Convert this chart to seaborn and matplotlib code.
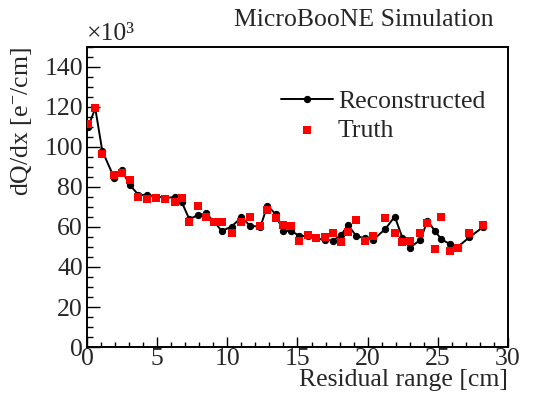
import matplotlib
matplotlib.use("Agg")
import matplotlib.pyplot as plt
from matplotlib.ticker import MultipleLocator
import seaborn as sns
import pandas as pd

# residual range [cm] of each track point
residual_range = [0.09, 0.59, 1.09, 1.93, 2.48, 3.05, 3.67, 4.29, 4.95, 5.59,
                  6.24, 6.76, 7.29, 7.93, 8.48, 9.05, 9.6, 10.3, 11.0, 11.64,
                  12.36, 12.86, 13.45, 13.95, 14.55, 15.14, 15.74, 16.33, 16.93, 17.52,
                  18.12, 18.59, 19.19, 19.83, 20.38, 21.26, 21.93, 22.48, 23.0, 23.76,
                  24.26, 24.79, 25.26, 25.9, 26.45, 27.24, 28.19]

# dQ/dx in units of 10^3 e-/cm
dqdx_reco = [110.2, 119.3, 98.0, 84.7, 88.3, 81.0, 76.0, 76.0, 75.2, 74.7,
             74.8, 72.3, 63.9, 66.0, 66.8, 62.7, 58.0, 60.2, 64.8, 60.5,
             60.2, 70.7, 66.3, 58.0, 58.0, 55.5, 55.5, 54.3, 53.5, 53.2,
             56.0, 61.0, 55.5, 54.3, 53.5, 59.0, 65.2, 54.5, 49.7, 53.5,
             63.2, 58.0, 53.8, 51.3, 50.2, 54.8, 59.8]

dqdx_truth = [111.3, 119.3, 96.3, 86.0, 86.8, 83.5, 74.8, 73.8, 74.3, 73.8,
              72.7, 74.3, 62.5, 70.5, 65.0, 62.5, 62.5, 56.8, 62.5, 65.2,
              60.3, 68.5, 64.3, 61.0, 60.7, 53.2, 56.0, 54.7, 55.2, 56.8,
              52.7, 57.7, 63.5, 53.0, 55.7, 64.7, 57.2, 52.7, 53.0, 56.8,
              61.8, 49.0, 65.2, 48.0, 49.7, 57.2, 61.0]

df = pd.DataFrame({"rr": residual_range, "reco": dqdx_reco, "truth": dqdx_truth})

sns.set_style("white")
plt.rcParams["font.family"] = ["Liberation Serif", "DejaVu Serif"]
plt.rcParams["mathtext.fontset"] = "custom"
plt.rcParams["mathtext.rm"] = "Liberation Serif"
plt.rcParams["mathtext.it"] = "Liberation Serif:italic"

fs = 18.5
fig = plt.figure(figsize=(5.37, 4.04), dpi=100)
ax = fig.add_axes([0.162, 0.141, 0.784, 0.743])

sns.lineplot(data=df, x="rr", y="reco", ax=ax, color="black", linewidth=1.4,
             marker="o", markersize=4.5, markeredgecolor="black",
             label="Reconstructed", zorder=2)
sns.scatterplot(data=df, x="rr", y="truth", ax=ax, color="red", marker="s",
                s=32, linewidth=0, label="Truth", zorder=3)

ax.set_xlim(0, 30)
ax.set_ylim(0, 150)
ax.xaxis.set_major_locator(MultipleLocator(5))
ax.xaxis.set_minor_locator(MultipleLocator(1))
ax.yaxis.set_major_locator(MultipleLocator(20))
ax.yaxis.set_minor_locator(MultipleLocator(5))
ax.tick_params(which="both", direction="in", top=False, right=False,
               bottom=True, left=True, labelsize=fs, width=1.0, color="black")
ax.tick_params(axis="y", which="major", length=9, pad=3)
ax.tick_params(axis="y", which="minor", length=4.5)
ax.tick_params(axis="x", which="major", length=7, pad=1)
ax.tick_params(axis="x", which="minor", length=3.5)
for sp in ax.spines.values():
    sp.set_linewidth(1.4)
    sp.set_color("black")

ax.set_xlabel("Residual range [cm]", fontsize=fs, loc="right", labelpad=-1)
ax.set_ylabel(r"dQ/dx [e$^{-}$/cm]", fontsize=fs, loc="top", labelpad=7)

ax.text(0.0, 1.005, "×10³", transform=ax.transAxes, fontsize=fs,
        ha="left", va="bottom")
fig.text(0.92, 0.95, "MicroBooNE Simulation", fontsize=fs,
         ha="right", va="center")

ax.legend(loc="upper left", bbox_to_anchor=(0.462, 0.855), frameon=False,
          fontsize=fs, handlelength=2.0, handletextpad=0.2,
          labelspacing=0.2, borderpad=0, borderaxespad=0)

fig.savefig("out.png", dpi=100)
